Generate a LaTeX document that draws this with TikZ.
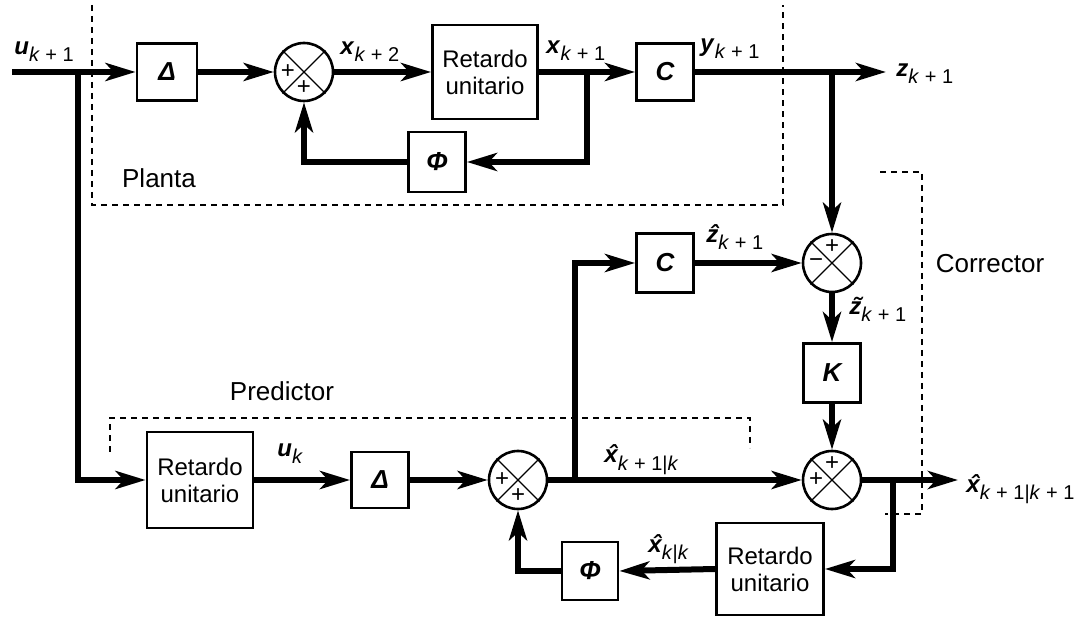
\documentclass[tikz,border=0pt]{standalone}
\usepackage{fontspec}
\setmainfont{Liberation Sans}
\usetikzlibrary{arrows.meta}
\newcommand\bv[1]{\textbf{\textit{#1}}}
\newcommand\ovl[2]{\ooalign{#2\cr\hidewidth\kern1.5pt #1\hidewidth\cr}}
\newcommand\vlab[2]{{\fontsize{12}{12}\selectfont\bv{#1}}\raisebox{-3.5pt}{\fontsize{10}{10}\selectfont #2}}
\begin{document}
\begin{tikzpicture}[x=0.5pt,y=-0.5pt,
  arr/.style={line width=3pt,-{Stealth[length=15pt,width=9pt,inset=4pt]}},
  flow/.style={line width=3pt},
  blk/.style={draw,line width=1.4pt,inner sep=0pt,font=\fontsize{13}{13}\selectfont\bfseries\itshape},
  ret/.style={draw,line width=1.4pt,inner sep=0pt,align=center,font=\fontsize{12}{13.5}\selectfont},
  sumj/.style={draw,circle,line width=1.3pt,minimum size=29pt,inner sep=0pt},
  crs/.style={line width=0.6pt},
  sgn/.style={inner sep=0pt,font=\fontsize{12}{12}\selectfont},
  dsh/.style={line width=0.6pt,dash pattern=on 3pt off 2.5pt},
  lbl/.style={inner sep=0pt,font=\fontsize{13}{13}\selectfont},
  vl/.style={anchor=base west,inner sep=0pt}]
\useasboundingbox (0,0) rectangle (1080,619);

% ---------- dashed regions
\draw[dsh] (92,5) -- (92,205) -- (783,205) -- (783,5);
\draw[dsh] (110,452) -- (110,418) -- (750,418) -- (750,448);
\draw[dsh] (880,172) -- (922,172) -- (922,514) -- (885,514);

% ---------- blocks
\node[blk,minimum width=30pt,minimum height=28.5pt] (d1) at (167,72) {Δ};
\node[sumj] (s1) at (304,72) {};
\node[ret,minimum width=52.5pt,minimum height=47pt] (r1) at (485,72) {Retardo\\unitario};
\node[blk,minimum width=28.5pt,minimum height=28.5pt] (c1) at (665,72) {C};
\node[blk,minimum width=28.5pt,minimum height=30pt] (p1) at (437,162) {Φ};
\node[sumj] (s2) at (832,263) {};
\node[blk,minimum width=28.5pt,minimum height=29.5pt] (c2) at (665,263) {C};
\node[blk,minimum width=28.5pt,minimum height=29.5pt] (k) at (832,373) {K};
\node[sumj] (s3) at (832,480) {};
\node[ret,minimum width=53pt,minimum height=48pt] (r2) at (200,480) {Retardo\\unitario};
\node[blk,minimum width=28.5pt,minimum height=28pt] (d2) at (380,480) {Δ};
\node[sumj] (s4) at (518,480) {};
\node[blk,minimum width=28pt,minimum height=29pt] (p2) at (590,571) {Φ};
\node[ret,minimum width=53.5pt,minimum height=46pt] (r3) at (770,569) {Retardo\\unitario};

% ---------- summing junction crosses and signs
\foreach \s in {s1,s2,s3,s4}{
  \draw[crs] (\s.45) -- (\s.225) (\s.135) -- (\s.315);
}
\node[sgn] (s1a) at ([xshift=-8pt]s1.center) {+};
\node[sgn] (s1b) at ([yshift=-8pt]s1.center) {+};
\node[sgn] (s2a) at ([yshift=8pt]s2.center) {+};
\node[sgn] (s2b) at ([xshift=-8pt]s2.center) {−};
\node[sgn] (s3a) at ([yshift=8pt]s3.center) {+};
\node[sgn] (s3b) at ([xshift=-8pt]s3.center) {+};
\node[sgn] (s4a) at ([xshift=-8pt]s4.center) {+};
\node[sgn] (s4b) at ([yshift=-8pt]s4.center) {+};

% ---------- coordinates
\coordinate (in) at (12,72);
\coordinate (j1) at (78,72);
\coordinate (j2) at (587,72);
\coordinate (j3) at (832,72);
\coordinate (zout) at (886,72);
\coordinate (j4) at (575,480);
\coordinate (j5) at (893,480);
\coordinate (xout) at (958,480);

% ---------- connectors
\draw[flow] (in) -- (j1);
\draw[arr] (j1) -- (d1.west);
\draw[arr] (j1) |- (r2.west);
\draw[arr] (d1.east) -- (s1.west);
\draw[arr] (s1.east) -- (r1.west);
\draw[arr] (r1.east) -- (c1.west);
\draw[arr] (j2) |- (p1.east);
\draw[arr] (p1.west) -| (s1.south);
\draw[arr] (c1.east) -- (zout);
\draw[arr] (j3) -- (s2.north);
\draw[arr] (c2.east) -- (s2.west);
\draw[arr] (j4) |- (c2.west);
\draw[arr] (s2.south) -- (k.north);
\draw[arr] (k.south) -- (s3.north);
\draw[arr] (r2.east) -- (d2.west);
\draw[arr] (d2.east) -- (s4.west);
\draw[arr] (s4.east) -- (s3.west);
\draw[arr] (s3.east) -- (xout);
\draw[arr] (j5) |- (r3.east);
\draw[arr] (r3.west) -- (p2.east);
\draw[arr] (p2.west) -| (s4.south);

% ---------- signal labels
\node[vl] (lu1) at (14,55) {\vlab{u}{\textit{k} + 1}};
\node[vl] (lx2) at (340,55) {\vlab{x}{\textit{k} + 2}};
\node[vl] (lx1) at (546,54) {\vlab{x}{\textit{k} + 1}};
\node[vl] (ly1) at (700,52) {\vlab{y}{\textit{k} + 1}};
\node[vl] (lz1) at (896,77) {\vlab{z}{\textit{k} + 1}};
\node[vl] (lzh) at (706,243) {\vlab{\ovl{ˆ}{z}}{\textit{k} + 1}};
\node[vl] (lzt) at (849,315) {\vlab{\ovl{˜}{z}}{\textit{k} + 1}};
\node[vl] (luk) at (277,457) {\vlab{u}{\textit{k}}};
\node[vl] (lxp) at (604,463) {\vlab{\ovl{ˆ}{x}}{\textit{k} + 1|\textit{k}}};
\node[vl] (lxk) at (648,552) {\vlab{\ovl{ˆ}{x}}{\textit{k}|\textit{k}}};
\node[vl] (lxo) at (966,492) {\vlab{\ovl{ˆ}{x}}{\textit{k} + 1|\textit{k} + 1}};

% ---------- region labels
\node[lbl] (lpl) at (159,178) {Planta};
\node[lbl] (lpr) at (282,391) {Predictor};
\node[lbl] (lco) at (990,264) {Corrector};
\end{tikzpicture}
\end{document}
